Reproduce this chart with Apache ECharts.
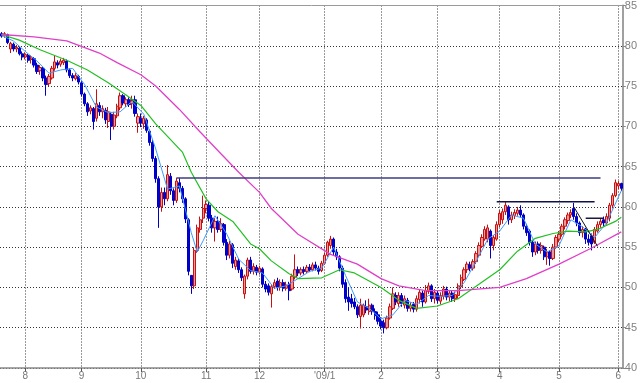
<!DOCTYPE html>
<html><head><meta charset="utf-8">
<script src="https://cdn.jsdelivr.net/npm/echarts@6/dist/echarts.min.js"></script>
<style>html,body{margin:0;padding:0;background:#fff}#c{width:640px;height:383px}</style>
</head><body><div id="c"></div>
<script>
// months shown (first entry = partial July, not labelled)
const monthNames = ['7','8','9','10','11','12',"'09/1",'2','3','4','5','6'];
const monthDays  = [8,19,20,22,18,22,19,19,21,20,20,2];

const openP = [81.5,81.3,81.4,79.6,80.2,79.6,79.7,79.0,78.6,78.8,78.3,78.4,77.6,76.9,77.2,76.0,75.3,76.0,77.2,77.9,
77.7,77.9,78.1,77.0,76.3,75.9,76.2,75.4,74.0,72.8,71.9,72.2,71.0,72.6,71.8,72.0,70.6,71.5,70.0,71.3,
72.3,73.8,72.8,73.3,72.8,73.3,70.4,71.0,70.3,70.8,69.4,68.0,66.0,63.5,60.0,61.8,61.0,63.8,62.0,60.8,
63.0,62.3,61.0,58.4,51.5,50.2,54.6,57.2,58.6,59.8,60.2,58.6,57.4,58.2,57.2,57.8,55.6,54.0,55.3,52.6,
53.3,52.2,49.2,51.4,53.4,52.0,52.5,51.9,52.3,50.4,50.2,49.2,50.1,50.8,50.0,50.6,49.9,50.4,49.8,51.3,
52.2,51.8,52.2,52.0,52.5,52.2,52.8,52.4,52.1,53.0,54.0,55.2,56.0,54.4,53.8,52.4,50.6,48.8,48.6,48.2,
47.6,46.4,46.6,47.6,47.0,47.8,47.0,46.6,45.8,45.6,45.0,46.2,47.4,49.0,48.0,49.0,47.8,48.4,47.4,47.9,
47.3,48.5,49.3,48.2,49.5,50.2,48.6,49.3,48.3,48.9,49.8,48.8,49.3,48.6,49.0,50.1,51.0,52.2,52.8,52.4,
53.2,54.0,55.1,56.0,56.0,57.0,55.2,56.0,57.8,58.4,59.4,60.0,58.4,58.9,59.2,59.6,59.0,57.6,57.0,55.6,
54.4,55.4,54.6,55.0,53.8,54.4,53.6,55.0,56.0,56.6,57.6,58.3,59.0,59.8,58.8,58.0,56.8,57.2,56.0,56.4,
55.6,57.0,57.8,58.4,58.0,58.6,60.2,61.4,62.6,62.9];
const closeP = [81.2,81.5,80.4,80.3,79.6,79.8,79.0,78.6,78.9,78.2,78.5,77.6,76.8,77.3,76.0,75.2,76.2,77.2,78.0,77.6,
78.1,78.2,77.0,76.3,76.0,76.3,75.5,74.0,72.8,71.8,72.3,70.6,72.8,71.8,72.2,70.8,71.8,70.0,71.4,72.5,
73.8,72.9,73.3,72.7,73.2,71.6,71.2,70.4,71.0,69.5,68.0,66.0,63.5,60.0,61.8,61.0,64.0,62.0,60.8,63.2,
62.3,61.0,58.5,52.0,50.2,54.6,57.4,58.4,59.8,60.3,58.6,57.4,58.2,57.2,57.9,55.6,54.0,55.4,53.0,53.4,
52.2,51.2,51.4,53.4,52.0,52.6,51.9,52.4,50.4,49.8,49.4,50.1,50.6,50.0,50.6,49.9,50.3,49.6,51.4,52.2,
51.8,52.2,52.0,52.5,52.2,52.8,52.4,52.0,53.0,54.0,55.6,56.0,54.4,53.8,52.4,50.4,48.6,48.2,48.0,47.6,
46.6,47.8,47.8,47.2,47.8,47.0,46.5,45.8,45.2,45.0,46.2,47.6,49.2,48.2,49.0,48.0,48.6,47.4,47.8,47.3,
48.6,49.4,48.2,49.6,50.2,48.6,49.4,48.4,49.0,49.8,48.8,49.3,48.6,49.1,50.2,51.2,52.2,52.9,52.4,53.2,
54.2,55.2,56.2,57.2,57.4,55.2,56.2,57.8,59.2,59.4,60.2,58.4,59.0,59.3,59.6,59.0,57.6,56.8,55.6,54.4,
55.4,54.6,55.2,53.8,54.4,53.6,55.0,56.2,56.6,57.6,58.4,59.0,59.3,58.8,58.0,56.8,57.2,56.0,55.6,55.4,
57.2,57.8,58.2,58.0,58.8,60.2,61.4,63.0,62.9,62.3];
const lowP = [81.0,81.0,80.2,79.1,79.3,79.2,78.8,78.2,78.3,77.9,77.8,77.3,76.5,76.4,75.6,73.8,75.0,75.8,76.9,77.2,
77.4,77.6,76.7,76.0,75.6,75.7,75.2,73.7,72.5,71.3,71.5,69.6,70.6,71.3,71.0,70.3,69.8,68.3,69.6,71.0,
72.0,72.6,72.4,72.4,72.2,71.2,69.2,69.9,69.7,69.2,67.6,65.6,63.0,57.4,59.4,60.2,60.7,61.5,60.2,60.5,
61.8,60.5,58.0,51.5,49.2,49.8,54.3,56.8,58.0,59.2,58.2,56.8,55.7,56.8,56.9,55.2,53.4,53.6,52.4,52.2,
51.8,50.8,48.6,51.0,51.7,51.6,51.5,51.6,50.0,49.4,49.0,47.5,49.8,49.6,49.6,49.5,49.6,48.4,49.6,51.0,
51.4,51.5,51.6,51.8,51.9,52.0,52.1,51.6,51.9,52.8,53.8,54.8,54.0,53.4,52.0,50.0,48.1,47.1,47.5,47.3,
46.2,44.9,46.3,46.8,46.6,46.6,46.0,45.4,44.8,44.3,44.8,46.0,47.2,47.8,47.6,47.6,47.4,47.0,47.0,46.9,
47.0,48.0,47.6,48.0,49.2,48.2,48.0,48.0,47.9,48.5,48.4,48.3,48.2,48.2,48.6,49.8,50.8,51.8,52.0,52.1,
52.9,53.8,54.9,55.8,55.6,53.6,54.6,55.8,57.5,57.9,59.0,57.8,58.0,58.5,58.9,58.7,57.2,56.4,55.2,53.8,
54.0,54.2,54.2,53.4,52.8,52.7,53.4,54.8,55.6,56.3,57.2,57.9,58.6,58.4,57.6,56.4,56.2,55.4,55.2,54.6,
55.4,56.8,57.4,57.6,57.8,58.2,59.8,61.2,62.2,62.0];
const highP = [81.7,81.7,81.5,80.5,80.4,80.1,79.9,79.3,79.2,79.0,78.8,78.6,77.9,77.6,77.4,76.3,76.5,77.5,78.8,78.2,
78.4,78.5,78.3,77.2,76.6,76.6,76.4,75.6,74.2,73.0,72.6,72.4,74.6,73.0,72.6,72.3,72.4,71.8,71.8,72.8,
74.2,74.0,73.6,73.6,73.8,73.8,71.6,71.6,71.3,71.0,69.6,68.3,66.3,63.8,62.4,62.4,65.2,64.2,62.3,63.6,
63.6,62.6,61.2,58.6,51.5,55.0,57.8,58.8,61.4,60.8,60.6,59.0,58.6,58.8,58.6,58.0,56.0,55.8,55.5,53.8,
53.6,52.5,51.6,53.7,53.8,53.0,52.8,52.7,52.5,50.8,50.5,50.4,51.0,51.2,51.0,51.0,50.7,50.7,51.7,54.1,
52.6,52.5,52.6,52.8,52.9,53.1,53.2,52.7,53.3,54.3,55.8,56.4,56.2,54.8,54.0,52.7,51.0,50.0,49.2,48.7,
47.9,48.6,48.0,48.4,48.6,48.0,47.4,47.0,46.3,46.0,46.5,48.0,50.0,49.4,49.4,49.3,49.0,48.7,48.2,48.2,
49.0,49.8,49.6,50.3,50.6,50.4,49.8,49.6,49.4,50.2,50.1,49.7,49.6,49.5,50.5,51.6,52.5,53.2,53.2,53.5,
54.5,55.6,56.6,57.6,57.8,57.2,56.5,58.2,59.6,59.8,60.6,60.2,59.4,59.7,60.0,60.2,59.2,57.9,57.2,55.8,
55.7,55.7,55.6,55.2,54.8,54.6,55.4,56.5,57.0,57.9,58.7,59.3,59.7,60.5,59.2,58.2,57.6,57.4,56.6,56.7,
57.5,58.2,58.6,58.8,59.2,60.5,61.7,63.4,63.2,63.0];

// moving averages read at sample days: [day index, value]
const maShort = [[0,81.3],[4,80.6],[8,79.3],[12,78.1],[16,76.6],[20,77.0],[24,77.2],[28,75.2],[32,72.4],[36,71.7],
[40,71.8],[44,73.1],[48,71.5],[52,67.2],[56,62.2],[60,62.6],[64,56.8],[66,54.4],[68,55.8],[72,58.9],[76,56.6],
[80,53.5],[84,52.1],[88,51.8],[92,49.9],[96,50.2],[100,51.1],[104,52.0],[108,52.4],[112,55.0],[116,51.5],
[120,48.2],[124,47.4],[128,46.1],[132,46.6],[136,48.4],[140,47.9],[144,49.0],[148,48.9],[152,49.0],[156,50.6],
[160,53.2],[164,56.0],[168,57.0],[172,59.0],[176,58.6],[180,55.4],[184,54.4],[188,55.2],[192,58.4],[196,57.5],
[200,56.2],[204,58.0],[209,62.0]];
const maMid = [[0,81.4],[6,80.7],[13,79.5],[22,78.2],[29,77.0],[36,75.4],[42,73.9],[47,72.6],[52,70.3],[61,66.8],
[64,64.3],[69,61.0],[73,59.4],[78,58.2],[84,55.4],[87,54.8],[91,53.3],[97,51.7],[100,51.1],[108,51.2],[114,52.2],
[119,51.8],[128,50.0],[134,48.4],[140,47.4],[147,47.7],[154,48.6],[161,50.4],[168,52.2],[174,54.5],[180,56.1],
[186,56.7],[191,57.0],[197,56.9],[201,57.2],[207,58.2],[209,58.7]];
const maLong = [[0,81.4],[11,81.1],[22,80.6],[33,79.1],[39,77.9],[47,76.4],[52,75.0],[60,72.1],[67,69.3],[74,66.6],
[80,64.3],[87,61.8],[91,59.8],[100,56.6],[111,54.1],[120,52.9],[128,51.1],[134,50.2],[143,49.6],[154,49.6],
[168,50.0],[177,51.1],[188,52.9],[199,54.9],[209,56.9]];

// drawn lines: [startDay, startValue, endDay, endValue]
const resistance1 = [59, 63.6, 202, 63.6];
const resistance2 = [167, 60.65, 200, 60.65];
const resistance3 = [197, 58.6, 203, 58.6];
const trendDown   = [193, 60.0, 201, 55.1];

const yTicks = {min: 40, max: 85, step: 5};

// build categories
const cats = [], labelAt = {};
monthDays.forEach((n, m) => {
  for (let d = 0; d < n; d++) {
    if (d === 0 && m > 0) labelAt[cats.length] = monthNames[m];
    cats.push(monthNames[m] + '-' + (d + 1));
  }
});
const candles = openP.map((o, i) => [o, closeP[i], lowP[i], highP[i]]);
const seg = (a) => [[a[0], a[1]], [a[2], a[3]]];
const isLab = (i) => labelAt[i] !== undefined;
const lineS = (data, color, width, z) => ({type: 'line', data, symbol: 'none', z: z || 3,
  lineStyle: {color, width}, silent: true});

const chart = echarts.init(document.getElementById('c'), null, {renderer: 'canvas'});
chart.setOption({
  animation: false,
  backgroundColor: '#ffffff',
  grid: {left: 0, right: 17, top: 2, bottom: 15},
  xAxis: [{
    type: 'category', data: cats, boundaryGap: true,
    axisLine: {lineStyle: {color: '#8a8a8a', width: 1.5}},
    axisTick: {show: true, interval: isLab, length: 4, alignWithLabel: true, lineStyle: {color: '#555'}},
    axisLabel: {interval: isLab, formatter: (v, i) => labelAt[i] || '', color: '#777',
      fontSize: 10, fontFamily: 'Liberation Sans, Arial', margin: 3},
    splitLine: {show: true, interval: isLab, alignWithLabel: true, lineStyle: {color: '#333', type: [1, 2], width: 1}}
  }, {
    type: 'category', data: cats, position: 'top',
    axisLine: {lineStyle: {color: '#9a9a9a', width: 1}},
    axisTick: {show: false}, axisLabel: {show: false}, splitLine: {show: false}
  }],
  yAxis: {
    type: 'value', position: 'right', min: yTicks.min, max: yTicks.max, interval: yTicks.step,
    axisLine: {show: true, lineStyle: {color: '#a0a0a0', width: 2}},
    axisTick: {show: true, length: 3, lineStyle: {color: '#888'}},
    axisLabel: {color: '#808080', fontSize: 11, fontFamily: 'Liberation Sans, Arial', margin: 2},
    splitLine: {show: true, lineStyle: {color: '#333', type: [1, 2], width: 1}}
  },
  series: [
    {type: 'candlestick', data: candles, barWidth: '92%', z: 2,
      itemStyle: {color: '#eb9a9a', color0: '#0000d8', borderColor: '#c81010', borderColor0: '#0000c0', borderWidth: 1}},
    lineS(maShort, '#3d9bff', 1, 4),
    lineS(maMid, '#22c022', 1.2, 4),
    lineS(maLong, '#e040c8', 1.3, 4),
    lineS(seg(resistance1), '#3c3c80', 1.5, 5),
    lineS(seg(resistance2), '#10104a', 1.5, 5),
    lineS(seg(resistance3), '#1a1a3a', 1.5, 5),
    lineS(seg(trendDown), '#111111', 1, 5)
  ]
});
</script></body></html>
